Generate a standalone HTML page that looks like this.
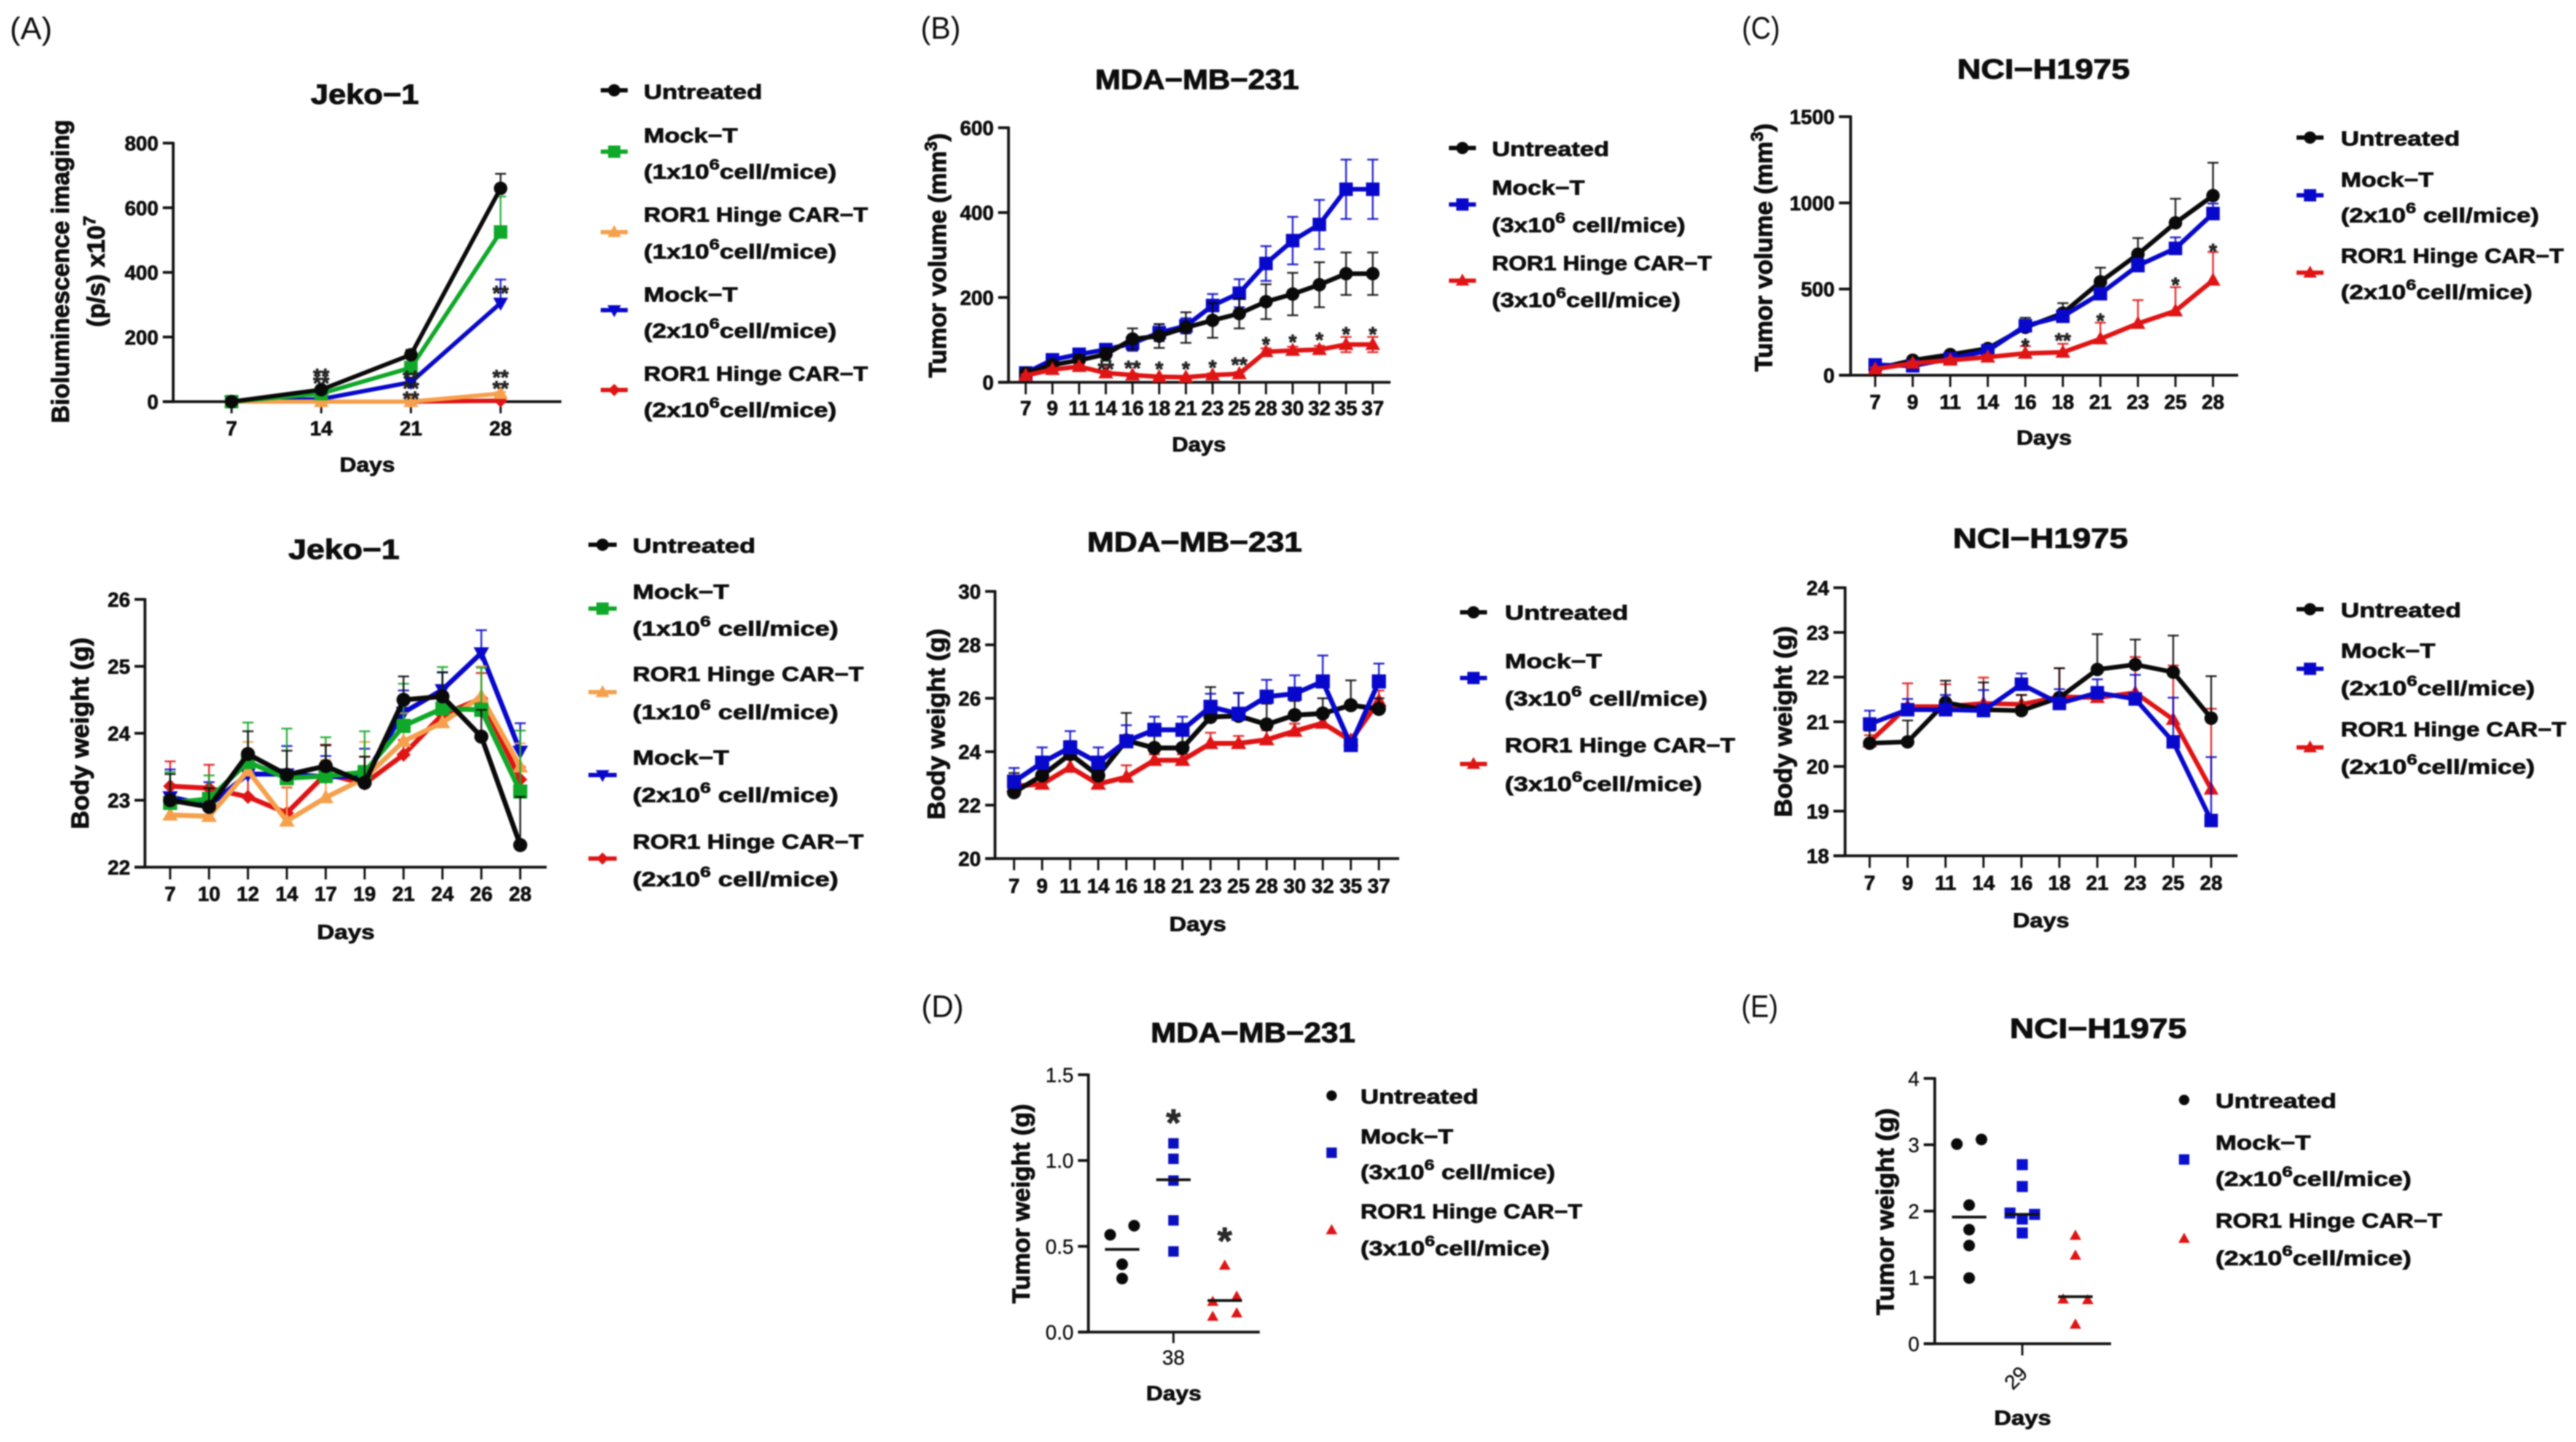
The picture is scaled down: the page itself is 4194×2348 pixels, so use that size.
<!DOCTYPE html>
<html lang="en">
<head>
<meta charset="utf-8">
<title>ROR1 Hinge CAR-T tumor and body weight charts</title>
<style>
html,body{margin:0;padding:0;background:#fff;}
#figure{display:block;width:4194px;height:2348px;font-family:"Liberation Sans",Arial,sans-serif;filter:blur(1.1px);}
#figure text{fill:#0d0d0d;}
.t{font-size:45px;font-weight:700;text-anchor:middle;stroke:#0d0d0d;stroke-width:1.2px;}
.d{font-size:33px;font-weight:700;text-anchor:middle;stroke:#0d0d0d;stroke-width:0.9px;}
.yt{font-size:40px;font-weight:700;text-anchor:middle;stroke:#0d0d0d;stroke-width:1.2px;}
.l{font-size:33px;font-weight:700;stroke:#0d0d0d;stroke-width:0.9px;}
.p{font-size:51px;font-weight:400;}
</style>
</head>
<body>
<svg id="figure" xmlns="http://www.w3.org/2000/svg" width="4194" height="2348" viewBox="0 0 4194 2348">
<rect width="4194" height="2348" fill="#fff"/>

<g>
<text class="p" x="16" y="64" textLength="69" lengthAdjust="spacingAndGlyphs">(A)</text>
<text class="p" x="1499" y="63" textLength="65" lengthAdjust="spacingAndGlyphs">(B)</text>
<text class="p" x="2836" y="63" textLength="62" lengthAdjust="spacingAndGlyphs">(C)</text>
<text class="p" x="1500" y="1656" textLength="69" lengthAdjust="spacingAndGlyphs">(D)</text>
<text class="p" x="2835" y="1656" textLength="60" lengthAdjust="spacingAndGlyphs">(E)</text>
</g>

<g>
<text class="t" x="594" y="169" textLength="176" lengthAdjust="spacingAndGlyphs">Jeko−1</text>
<text class="t" x="560" y="910" textLength="181" lengthAdjust="spacingAndGlyphs">Jeko−1</text>
<text class="t" x="1949" y="145" textLength="332" lengthAdjust="spacingAndGlyphs">MDA−MB−231</text>
<text class="t" x="1945" y="898" textLength="350" lengthAdjust="spacingAndGlyphs">MDA−MB−231</text>
<text class="t" x="3327" y="128" textLength="281" lengthAdjust="spacingAndGlyphs">NCI−H1975</text>
<text class="t" x="3322" y="892" textLength="285" lengthAdjust="spacingAndGlyphs">NCI−H1975</text>
<text class="t" x="2040" y="1697" textLength="333" lengthAdjust="spacingAndGlyphs">MDA−MB−231</text>
<text class="t" x="3416" y="1690" textLength="288" lengthAdjust="spacingAndGlyphs">NCI−H1975</text>
</g>

<g>
<text class="d" x="598" y="768" textLength="90" lengthAdjust="spacingAndGlyphs">Days</text>
<text class="d" x="563" y="1529" textLength="94" lengthAdjust="spacingAndGlyphs">Days</text>
<text class="d" x="1952" y="735" textLength="88" lengthAdjust="spacingAndGlyphs">Days</text>
<text class="d" x="1950" y="1516" textLength="93" lengthAdjust="spacingAndGlyphs">Days</text>
<text class="d" x="3328" y="724" textLength="90" lengthAdjust="spacingAndGlyphs">Days</text>
<text class="d" x="3323" y="1510" textLength="92" lengthAdjust="spacingAndGlyphs">Days</text>
<text class="d" x="1911" y="2280" textLength="90" lengthAdjust="spacingAndGlyphs">Days</text>
<text class="d" x="3293" y="2320" textLength="93" lengthAdjust="spacingAndGlyphs">Days</text>
</g>

<g>
<text class="yt" transform="translate(112,442) rotate(-90)" textLength="494" lengthAdjust="spacingAndGlyphs">Bioluminescence imaging</text>
<text class="yt" transform="translate(170,442) rotate(-90)" textLength="181" lengthAdjust="spacingAndGlyphs">(p/s) x10<tspan dy="-15" font-size="28">7</tspan></text>
<text class="yt" transform="translate(144,1194) rotate(-90)" textLength="312" lengthAdjust="spacingAndGlyphs">Body weight (g)</text>
<text class="yt" transform="translate(1540,416) rotate(-90)" textLength="398" lengthAdjust="spacingAndGlyphs">Tumor volume (mm<tspan dy="-15" font-size="28">3</tspan><tspan dy="15">)</tspan></text>
<text class="yt" transform="translate(1538,1179) rotate(-90)" textLength="311" lengthAdjust="spacingAndGlyphs">Body weight (g)</text>
<text class="yt" transform="translate(2885,403) rotate(-90)" textLength="404" lengthAdjust="spacingAndGlyphs">Tumor volume (mm<tspan dy="-15" font-size="28">3</tspan><tspan dy="15">)</tspan></text>
<text class="yt" transform="translate(2917,1175) rotate(-90)" textLength="311" lengthAdjust="spacingAndGlyphs">Body weight (g)</text>
<text class="yt" transform="translate(1676,1960) rotate(-90)" textLength="325" lengthAdjust="spacingAndGlyphs">Tumor weight (g)</text>
<text class="yt" transform="translate(3083,1973) rotate(-90)" textLength="337" lengthAdjust="spacingAndGlyphs">Tumor weight (g)</text>
</g>

<g>
<text class="l" x="1048" y="161" textLength="193" lengthAdjust="spacingAndGlyphs">Untreated</text>
<text class="l" x="1048" y="232" textLength="153" lengthAdjust="spacingAndGlyphs">Mock−T</text>
<text class="l" x="1048" y="291" textLength="314" lengthAdjust="spacingAndGlyphs">(1x10<tspan dy="-15" font-size="24">6</tspan><tspan dy="15">cell/mice)</tspan></text>
<text class="l" x="1048" y="361" textLength="365" lengthAdjust="spacingAndGlyphs">ROR1 Hinge CAR−T</text>
<text class="l" x="1048" y="421" textLength="314" lengthAdjust="spacingAndGlyphs">(1x10<tspan dy="-15" font-size="24">6</tspan><tspan dy="15">cell/mice)</tspan></text>
<text class="l" x="1048" y="491" textLength="153" lengthAdjust="spacingAndGlyphs">Mock−T</text>
<text class="l" x="1048" y="550" textLength="314" lengthAdjust="spacingAndGlyphs">(2x10<tspan dy="-15" font-size="24">6</tspan><tspan dy="15">cell/mice)</tspan></text>
<text class="l" x="1048" y="620" textLength="365" lengthAdjust="spacingAndGlyphs">ROR1 Hinge CAR−T</text>
<text class="l" x="1048" y="679" textLength="314" lengthAdjust="spacingAndGlyphs">(2x10<tspan dy="-15" font-size="24">6</tspan><tspan dy="15">cell/mice)</tspan></text>
</g>

<g>
<text class="l" x="1030" y="900" textLength="200" lengthAdjust="spacingAndGlyphs">Untreated</text>
<text class="l" x="1030" y="975" textLength="157" lengthAdjust="spacingAndGlyphs">Mock−T</text>
<text class="l" x="1030" y="1035" textLength="335" lengthAdjust="spacingAndGlyphs">(1x10<tspan dy="-15" font-size="24">6</tspan><tspan dy="15"> cell/mice)</tspan></text>
<text class="l" x="1030" y="1109" textLength="376" lengthAdjust="spacingAndGlyphs">ROR1 Hinge CAR−T</text>
<text class="l" x="1030" y="1171" textLength="335" lengthAdjust="spacingAndGlyphs">(1x10<tspan dy="-15" font-size="24">6</tspan><tspan dy="15"> cell/mice)</tspan></text>
<text class="l" x="1030" y="1245" textLength="157" lengthAdjust="spacingAndGlyphs">Mock−T</text>
<text class="l" x="1030" y="1306" textLength="335" lengthAdjust="spacingAndGlyphs">(2x10<tspan dy="-15" font-size="24">6</tspan><tspan dy="15"> cell/mice)</tspan></text>
<text class="l" x="1030" y="1382" textLength="376" lengthAdjust="spacingAndGlyphs">ROR1 Hinge CAR−T</text>
<text class="l" x="1030" y="1443" textLength="335" lengthAdjust="spacingAndGlyphs">(2x10<tspan dy="-15" font-size="24">6</tspan><tspan dy="15"> cell/mice)</tspan></text>
</g>

<g>
<text class="l" x="2429" y="254" textLength="191" lengthAdjust="spacingAndGlyphs">Untreated</text>
<text class="l" x="2429" y="317" textLength="151" lengthAdjust="spacingAndGlyphs">Mock−T</text>
<text class="l" x="2429" y="378" textLength="315" lengthAdjust="spacingAndGlyphs">(3x10<tspan dy="-15" font-size="24">6</tspan><tspan dy="15"> cell/mice)</tspan></text>
<text class="l" x="2429" y="440" textLength="358" lengthAdjust="spacingAndGlyphs">ROR1 Hinge CAR−T</text>
<text class="l" x="2429" y="500" textLength="307" lengthAdjust="spacingAndGlyphs">(3x10<tspan dy="-15" font-size="24">6</tspan><tspan dy="15">cell/mice)</tspan></text>
</g>

<g>
<text class="l" x="2450" y="1009" textLength="201" lengthAdjust="spacingAndGlyphs">Untreated</text>
<text class="l" x="2450" y="1088" textLength="158" lengthAdjust="spacingAndGlyphs">Mock−T</text>
<text class="l" x="2450" y="1149" textLength="330" lengthAdjust="spacingAndGlyphs">(3x10<tspan dy="-15" font-size="24">6</tspan><tspan dy="15"> cell/mice)</tspan></text>
<text class="l" x="2450" y="1225" textLength="375" lengthAdjust="spacingAndGlyphs">ROR1 Hinge CAR−T</text>
<text class="l" x="2450" y="1288" textLength="321" lengthAdjust="spacingAndGlyphs">(3x10<tspan dy="-15" font-size="24">6</tspan><tspan dy="15">cell/mice)</tspan></text>
</g>

<g>
<text class="l" x="3811" y="237" textLength="194" lengthAdjust="spacingAndGlyphs">Untreated</text>
<text class="l" x="3811" y="304" textLength="151" lengthAdjust="spacingAndGlyphs">Mock−T</text>
<text class="l" x="3811" y="362" textLength="323" lengthAdjust="spacingAndGlyphs">(2x10<tspan dy="-15" font-size="24">6</tspan><tspan dy="15"> cell/mice)</tspan></text>
<text class="l" x="3811" y="428" textLength="363" lengthAdjust="spacingAndGlyphs">ROR1 Hinge CAR−T</text>
<text class="l" x="3811" y="487" textLength="312" lengthAdjust="spacingAndGlyphs">(2x10<tspan dy="-15" font-size="24">6</tspan><tspan dy="15">cell/mice)</tspan></text>
</g>

<g>
<text class="l" x="3811" y="1005" textLength="196" lengthAdjust="spacingAndGlyphs">Untreated</text>
<text class="l" x="3811" y="1071" textLength="154" lengthAdjust="spacingAndGlyphs">Mock−T</text>
<text class="l" x="3811" y="1132" textLength="316" lengthAdjust="spacingAndGlyphs">(2x10<tspan dy="-15" font-size="24">6</tspan><tspan dy="15">cell/mice)</tspan></text>
<text class="l" x="3811" y="1199" textLength="367" lengthAdjust="spacingAndGlyphs">ROR1 Hinge CAR−T</text>
<text class="l" x="3811" y="1260" textLength="316" lengthAdjust="spacingAndGlyphs">(2x10<tspan dy="-15" font-size="24">6</tspan><tspan dy="15">cell/mice)</tspan></text>
</g>

<g>
<text class="l" x="2215" y="1797" textLength="192" lengthAdjust="spacingAndGlyphs">Untreated</text>
<text class="l" x="2215" y="1862" textLength="151" lengthAdjust="spacingAndGlyphs">Mock−T</text>
<text class="l" x="2215" y="1920" textLength="317" lengthAdjust="spacingAndGlyphs">(3x10<tspan dy="-15" font-size="24">6</tspan><tspan dy="15"> cell/mice)</tspan></text>
<text class="l" x="2215" y="1984" textLength="361" lengthAdjust="spacingAndGlyphs">ROR1 Hinge CAR−T</text>
<text class="l" x="2215" y="2044" textLength="308" lengthAdjust="spacingAndGlyphs">(3x10<tspan dy="-15" font-size="24">6</tspan><tspan dy="15">cell/mice)</tspan></text>
</g>

<g>
<text class="l" x="3607" y="1804" textLength="197" lengthAdjust="spacingAndGlyphs">Untreated</text>
<text class="l" x="3607" y="1872" textLength="155" lengthAdjust="spacingAndGlyphs">Mock−T</text>
<text class="l" x="3607" y="1931" textLength="319" lengthAdjust="spacingAndGlyphs">(2x10<tspan dy="-15" font-size="24">6</tspan><tspan dy="15">cell/mice)</tspan></text>
<text class="l" x="3607" y="1999" textLength="369" lengthAdjust="spacingAndGlyphs">ROR1 Hinge CAR−T</text>
<text class="l" x="3607" y="2060" textLength="319" lengthAdjust="spacingAndGlyphs">(2x10<tspan dy="-15" font-size="24">6</tspan><tspan dy="15">cell/mice)</tspan></text>
</g>
</svg>

<script>
/* ---------- Panel A, Jeko-1 bioluminescence ---------- */
const jekoImagingDays = ['7','14','21','28'];
const jekoImagingTicks = [0,200,400,600,800];
const jekoImagingUntreated = [0,37,145,660];
const jekoImagingUntreatedUpper = [0,45,160,705];
const jekoImagingMock1 = [0,25,105,525];
const jekoImagingMock1Upper = [0,30,120,635];
const jekoImagingCar1 = [0,0,0,25];
const jekoImagingCar1Upper = [0,0,0,30];
const jekoImagingMock2 = [0,8,60,305];
const jekoImagingMock2Upper = [0,10,70,378];
const jekoImagingCar2 = [0,0,0,3];
const jekoImagingCar2Upper = [0,0,0,5];
const jekoImagingStarDays = [1,1,2,2,2,3,3,3];
const jekoImagingStarHeights = [93,71,87,55,23,350,89,55];
const jekoImagingStarLabels = ['**','**','**','**','**','**','**','**'];

/* ---------- Panel A, Jeko-1 body weight ---------- */
const jekoWeightDays = ['7','10','12','14','17','19','21','24','26','28'];
const jekoWeightTicks = [22,23,24,25,26];
const jekoWeightUntreated = [23.0,22.9,23.69,23.38,23.51,23.26,24.5,24.55,23.95,22.33];
const jekoWeightUntreatedUpper = [23.39,23.18,24.03,23.74,23.82,23.65,24.85,24.91,24.35,23.05];
const jekoWeightMock1 = [22.96,23.02,23.57,23.33,23.36,23.42,24.11,24.37,24.35,23.13];
const jekoWeightMock1Upper = [23.42,23.37,24.16,24.07,23.94,24.03,24.74,24.99,24.98,24.04];
const jekoWeightCar1 = [22.78,22.76,23.44,22.69,23.04,23.33,23.88,24.16,24.55,23.5];
const jekoWeightCar1Upper = [22.9,22.9,23.87,23.2,23.6,23.87,24.3,24.6,25.0,23.85];
const jekoWeightMock2 = [23.05,22.92,23.39,23.39,23.35,23.36,24.31,24.65,25.2,23.73];
const jekoWeightMock2Upper = [23.46,23.27,23.45,23.81,23.66,23.77,24.64,24.91,25.54,24.15];
const jekoWeightCar2 = [23.21,23.18,23.05,22.81,23.39,23.25,23.68,24.28,24.52,23.31];
const jekoWeightCar2Upper = [23.58,23.53,23.44,23.19,23.83,23.65,23.9,24.6,24.9,23.5];

/* ---------- Panel B, MDA-MB-231 tumor volume ---------- */
const mdaVolumeDays = ['7','9','11','14','16','18','21','23','25','28','30','32','35','37'];
const mdaVolumeTicks = [0,200,400,600];
const mdaVolumeUntreated = [21,41,52,66,102,109,129,146,162,190,208,230,256,256];
const mdaVolumeUntreatedError = [5,10,12,15,25,28,36,41,35,41,50,53,50,50];
const mdaVolumeMock = [22,53,66,77,92,117,133,181,210,280,334,372,455,455];
const mdaVolumeMockError = [5,10,10,12,18,20,18,27,33,41,56,58,70,70];
const mdaVolumeCar = [16,30,37,22,17,13,12,17,20,72,75,77,89,89];
const mdaVolumeCarError = [3,4,5,4,4,3,3,4,4,8,9,9,18,18];
const mdaVolumeStarDays = [3,4,5,6,7,8,9,10,11,12,13];
const mdaVolumeStarHeights = [42,44,42,42,46,52,100,106,111,124,124];
const mdaVolumeStarLabels = ['**','**','*','*','*','**','*','*','*','*','*'];

/* ---------- Panel B, MDA-MB-231 body weight ---------- */
const mdaWeightDays = ['7','9','11','14','16','18','21','23','25','28','30','32','35','37'];
const mdaWeightTicks = [20,22,24,26,28,30];
const mdaWeightUntreated = [22.48,23.11,23.91,23.11,24.42,24.14,24.14,25.3,25.34,25.02,25.37,25.43,25.74,25.6];
const mdaWeightUntreatedUpper = [23.2,23.7,24.4,23.6,25.45,24.6,24.6,26.42,26.2,25.8,25.9,26.0,26.67,26.0];
const mdaWeightMock = [22.88,23.59,24.16,23.59,24.39,24.82,24.82,25.68,25.42,26.06,26.17,26.63,24.25,26.63];
const mdaWeightMockUpper = [23.39,24.16,24.77,24.16,24.99,25.31,25.31,26.17,26.19,26.69,26.86,27.6,24.25,27.3];
const mdaWeightCar = [22.71,22.79,23.42,22.79,23.05,23.68,23.68,24.31,24.31,24.45,24.77,25.07,24.42,25.9];
const mdaWeightCarUpper = [23.0,23.1,23.7,23.0,23.49,23.9,23.9,24.71,24.59,24.8,25.05,25.3,24.6,26.29];

/* ---------- Panel C, NCI-H1975 tumor volume ---------- */
const nciVolumeDays = ['7','9','11','14','16','18','21','23','25','28'];
const nciVolumeTicks = [0,500,1000,1500];
const nciVolumeUntreated = [36,87,120,155,278,360,542,702,884,1042];
const nciVolumeUntreatedUpper = [50,105,135,175,333,418,624,796,1024,1233];
const nciVolumeMock = [60,55,96,142,287,342,473,636,736,938];
const nciVolumeMockUpper = [70,70,110,160,305,360,500,678,800,996];
const nciVolumeCar = [36,69,87,105,127,133,211,300,373,551];
const nciVolumeCarUpper = [45,80,100,120,169,182,305,436,511,715];
const nciVolumeStarDays = [4,5,6,8,9];
const nciVolumeStarHeights = [196,229,342,551,747];
const nciVolumeStarLabels = ['*','**','*','*','*'];

/* ---------- Panel C, NCI-H1975 body weight ---------- */
const nciWeightDays = ['7','9','11','14','16','18','21','23','25','28'];
const nciWeightTicks = [18,19,20,21,22,23,24];
const nciWeightUntreated = [20.52,20.55,21.43,21.27,21.25,21.54,22.17,22.28,22.11,21.08];
const nciWeightUntreatedUpper = [20.8,21.03,21.92,21.88,21.6,22.2,22.96,22.84,22.93,22.02];
const nciWeightMock = [20.95,21.27,21.27,21.25,21.84,21.41,21.65,21.51,20.55,18.79];
const nciWeightMockUpper = [21.25,21.51,21.6,21.71,22.08,21.73,21.95,22.05,21.54,20.21];
const nciWeightCar = [20.55,21.34,21.34,21.41,21.39,21.56,21.54,21.65,21.05,19.49];
const nciWeightCarUpper = [20.7,21.86,21.84,21.99,21.6,22.2,21.7,22.45,22.26,21.29];

/* ---------- Panel D, MDA-MB-231 tumor weight ---------- */
const mdaTumorDay = ['38'];
const mdaTumorTicks = ['0.0','0.5','1.0','1.5'];
const mdaTumorUntreated = [0.567,0.62,0.395,0.312];
const mdaTumorUntreatedJitter = [-1,1,0,0];
const mdaTumorUntreatedMedian = [0.482];
const mdaTumorMock = [1.10,1.01,0.883,0.651,0.47];
const mdaTumorMockJitter = [0,0,0,0,0];
const mdaTumorMockMedian = [0.888];
const mdaTumorCar = [0.388,0.177,0.207,0.09,0.11];
const mdaTumorCarJitter = [0,-1,1,-1,1];
const mdaTumorCarMedian = [0.184];
const mdaTumorStarGroups = [1,2];
const mdaTumorStarHeights = [1.268,0.579];
const mdaTumorStarLabels = ['*','*'];

/* ---------- Panel E, NCI-H1975 tumor weight ---------- */
const nciTumorDay = ['29'];
const nciTumorTicks = ['0','1','2','3','4'];
const nciTumorUntreated = [3.01,3.08,2.09,1.72,1.48,0.99];
const nciTumorUntreatedJitter = [-1,1,0,0,0,0];
const nciTumorUntreatedMedian = [1.91];
const nciTumorMock = [2.70,2.37,1.97,1.95,1.88,1.67];
const nciTumorMockJitter = [0,0,-1,1,0,0];
const nciTumorMockMedian = [1.95];
const nciTumorCar = [1.63,1.33,0.67,0.66,0.29];
const nciTumorCarJitter = [0,0,-1,1,0];
const nciTumorCarMedian = [0.71];

/* ---------- Styles ---------- */
const BLACK = '#0a0a0a', GREEN = '#10a828', ORANGE = '#f5a04c', BLUE = '#0808cc', RED = '#e01414';
const NS = 'http://www.w3.org/2000/svg';
const figure = document.getElementById('figure');

function make(tag, attrs, parent) {
  const el = document.createElementNS(NS, tag);
  for (const k in attrs) el.setAttribute(k, attrs[k]);
  parent.appendChild(el);
  return el;
}

function addMarker(parent, shape, cx, cy, s, color) {
  let el;
  if (shape === 'circle') {
    el = make('circle', {cx: cx, cy: cy, r: s, fill: color}, parent);
  } else if (shape === 'square') {
    el = make('rect', {x: cx - s, y: cy - s, width: 2 * s, height: 2 * s, fill: color}, parent);
  } else if (shape === 'up') {
    el = make('polygon', {points: [cx, cy - s * 1.15, cx + s * 1.1, cy + s * 0.8, cx - s * 1.1, cy + s * 0.8].join(' '), fill: color}, parent);
  } else if (shape === 'down') {
    el = make('polygon', {points: [cx, cy + s * 1.15, cx + s * 1.1, cy - s * 0.8, cx - s * 1.1, cy - s * 0.8].join(' '), fill: color}, parent);
  } else {
    el = make('polygon', {points: [cx, cy - s, cx + s, cy, cx, cy + s, cx - s, cy].join(' '), fill: color}, parent);
  }
  return el;
}

function addLabel(parent, x, y, str, anchor, size, weight) {
  const el = make('text', {x: x, y: y, 'text-anchor': anchor, 'font-size': size, 'font-weight': weight, stroke: '#0d0d0d', 'stroke-width': weight === 700 ? 0.8 : 0.4}, parent);
  el.textContent = str;
  return el;
}

/* Shared axis drawing; returns the y scale */
function drawAxes(root, frame, tickValues, tickLabels, xPositions, xLabels) {
  const yOf = v => frame.bottom - (v - frame.min) / (frame.max - frame.min) * (frame.bottom - frame.top);
  const axes = make('g', {stroke: '#111', 'stroke-width': 4.5, fill: 'none'}, root);
  
  
  const yAxis = make('line', {x1: frame.axisX, x2: frame.axisX, y1: frame.top - 2, y2: frame.bottom}, axes);
  
  
  const xAxis = make('line', {x1: frame.tickLeft, x2: frame.axisEnd, y1: frame.bottom, y2: frame.bottom}, axes);
  
  
  tickValues.forEach((v, i) => {
    const y = yOf(v);
    const tick = make('line', {x1: frame.tickLeft, x2: frame.axisX, y1: y, y2: y}, axes);
    
    
    const lab = addLabel(root, frame.tickLeft - 7, y + 12, tickLabels[i], 'end', frame.labelSize, frame.labelWeight);
    
    
  });
  xPositions.forEach((x, i) => {
    const tick = make('line', {x1: x, x2: x, y1: frame.bottom, y2: frame.tickBottom, 'stroke-width': 3.5}, axes);
    
    
    const lx = x + (frame.xLabelShift || 0);
    const lab = addLabel(root, lx, frame.xLabelY, xLabels[i], 'middle', frame.labelSize, frame.labelWeight);
    
    
    if (frame.xLabelRotate) {
      lab.setAttribute('transform', 'rotate(' + frame.xLabelRotate + ' ' + lx + ' ' + (frame.xLabelY - 12) + ')');
    }
  });
  return yOf;
}

function drawStars(root, xAt, yOf, positions, heights, labels, size) {
  labels.forEach((str, i) => {
    const star = addLabel(root, xAt(positions[i]), yOf(heights[i]) + size * 0.56, str, 'middle', size, 700);
    
    
    star.style.fill = '#2a2a2a';
  });
}

function drawLineChart(name, frame, labels, tickValues, seriesList, stars) {
  const root = make('g', {}, figure);
  
  
  const step = (frame.lastX - frame.firstX) / (labels.length - 1);
  const xAt = i => frame.firstX + i * step;
  const yOf = drawAxes(root, frame, tickValues, tickValues.map(String), labels.map((_, i) => xAt(i)), labels);
  seriesList.forEach(s => {
    const g = make('g', {}, root);
    
    
    s.values.forEach((v, i) => {
      const x = xAt(i), yv = yOf(v), up = yOf(s.upper[i]);
      const low = s.both ? yOf(2 * v - s.upper[i]) : yv;
      const bar = make('line', {x1: x, x2: x, y1: up, y2: low, stroke: s.color, 'stroke-width': 3, 'stroke-opacity': 0.85}, g);
      
      
      const cap = make('line', {x1: x - 9, x2: x + 9, y1: up, y2: up, stroke: s.color, 'stroke-width': 3, 'stroke-opacity': 0.85}, g);
      
      
      if (s.both) {
        const capLow = make('line', {x1: x - 9, x2: x + 9, y1: low, y2: low, stroke: s.color, 'stroke-width': 3, 'stroke-opacity': 0.85}, g);
        
        
      }
    });
    const pts = s.values.map((v, i) => xAt(i) + ',' + yOf(v)).join(' ');
    const line = make('polyline', {points: pts, fill: 'none', stroke: s.color, 'stroke-width': frame.lineWidth, 'stroke-linejoin': 'miter'}, g);
    
    
    s.values.forEach((v, i) => {
      const m = addMarker(g, s.shape, xAt(i), yOf(v), frame.marker, s.color);
      
      
    });
  });
  if (stars) drawStars(root, xAt, yOf, stars.positions, stars.heights, stars.labels, stars.size);
}

function drawDotChart(name, frame, dayLabel, tickLabels, groups, stars) {
  const root = make('g', {}, figure);
  
  
  const groupX = i => frame.firstGroupX + i * frame.groupStep;
  const yOf = drawAxes(root, frame, tickLabels.map(Number), tickLabels, [groupX(1)], dayLabel);
  groups.forEach((gr, gi) => {
    const g = make('g', {}, root);
    
    
    const cx = groupX(gi);
    gr.values.forEach((v, i) => {
      const m = addMarker(g, gr.shape, cx + gr.jitter[i] * frame.jitterStep, yOf(v), gr.size, gr.color);
      
      
    });
    const med = make('line', {x1: cx - 28, x2: cx + 28, y1: yOf(gr.median[0]), y2: yOf(gr.median[0]), stroke: '#111', 'stroke-width': 4.5}, g);
    
    
  });
  if (stars) drawStars(root, groupX, yOf, stars.positions, stars.heights, stars.labels, stars.size);
}

function drawLegendSymbols(name, x, half, lineWidth, size, rows) {
  const root = make('g', {}, figure);
  
  
  rows.forEach(r => {
    if (half > 0) {
      const line = make('line', {x1: x - half, x2: x + half, y1: r.y, y2: r.y, stroke: r.color, 'stroke-width': lineWidth}, root);
      
      
    }
    const m = addMarker(root, r.shape, x, r.y, size, r.color);
    
    
  });
}

/* ---------- Draw ---------- */
drawLineChart('chart-jeko-imaging',
  {axisX: 282, top: 233, bottom: 654, tickLeft: 265, axisEnd: 914, tickBottom: 673, firstX: 377, lastX: 815, xLabelY: 709, min: 0, max: 800, lineWidth: 7, marker: 11, labelSize: 33, labelWeight: 700},
  jekoImagingDays, jekoImagingTicks,
  [
    {name: 'car-t-2x', color: RED, shape: 'diamond', values: jekoImagingCar2, upper: jekoImagingCar2Upper},
    {name: 'mock-t-2x', color: BLUE, shape: 'down', values: jekoImagingMock2, upper: jekoImagingMock2Upper},
    {name: 'car-t-1x', color: ORANGE, shape: 'up', values: jekoImagingCar1, upper: jekoImagingCar1Upper},
    {name: 'mock-t-1x', color: GREEN, shape: 'square', values: jekoImagingMock1, upper: jekoImagingMock1Upper},
    {name: 'untreated', color: BLACK, shape: 'circle', values: jekoImagingUntreated, upper: jekoImagingUntreatedUpper}
  ],
  {positions: jekoImagingStarDays, heights: jekoImagingStarHeights, labels: jekoImagingStarLabels, size: 34});

drawLineChart('chart-jeko-body-weight',
  {axisX: 236, top: 976, bottom: 1412, tickLeft: 219, axisEnd: 890, tickBottom: 1432, firstX: 277, lastX: 847, xLabelY: 1467, min: 22, max: 26, lineWidth: 8, marker: 11.5, labelSize: 33, labelWeight: 700},
  jekoWeightDays, jekoWeightTicks,
  [
    {name: 'car-t-2x', color: RED, shape: 'diamond', values: jekoWeightCar2, upper: jekoWeightCar2Upper},
    {name: 'mock-t-2x', color: BLUE, shape: 'down', values: jekoWeightMock2, upper: jekoWeightMock2Upper},
    {name: 'car-t-1x', color: ORANGE, shape: 'up', values: jekoWeightCar1, upper: jekoWeightCar1Upper},
    {name: 'mock-t-1x', color: GREEN, shape: 'square', values: jekoWeightMock1, upper: jekoWeightMock1Upper},
    {name: 'untreated', color: BLACK, shape: 'circle', values: jekoWeightUntreated, upper: jekoWeightUntreatedUpper}
  ]);

drawLineChart('chart-mda-volume',
  {axisX: 1642, top: 208, bottom: 622.5, tickLeft: 1625, axisEnd: 2264, tickBottom: 642, firstX: 1670, lastX: 2235, xLabelY: 676, min: 0, max: 600, lineWidth: 7.5, marker: 11, labelSize: 33, labelWeight: 700},
  mdaVolumeDays, mdaVolumeTicks,
  [
    {name: 'mock-t', color: BLUE, shape: 'square', both: true, values: mdaVolumeMock, upper: mdaVolumeMock.map((v, i) => v + mdaVolumeMockError[i])},
    {name: 'untreated', color: BLACK, shape: 'circle', both: true, values: mdaVolumeUntreated, upper: mdaVolumeUntreated.map((v, i) => v + mdaVolumeUntreatedError[i])},
    {name: 'car-t', color: RED, shape: 'up', both: true, values: mdaVolumeCar, upper: mdaVolumeCar.map((v, i) => v + mdaVolumeCarError[i])}
  ],
  {positions: mdaVolumeStarDays, heights: mdaVolumeStarHeights, labels: mdaVolumeStarLabels, size: 34});

drawLineChart('chart-mda-body-weight',
  {axisX: 1620, top: 963, bottom: 1398, tickLeft: 1604, axisEnd: 2278, tickBottom: 1417, firstX: 1651, lastX: 2245, xLabelY: 1454, min: 20, max: 30, lineWidth: 8, marker: 11.5, labelSize: 33, labelWeight: 700},
  mdaWeightDays, mdaWeightTicks,
  [
    {name: 'car-t', color: RED, shape: 'up', values: mdaWeightCar, upper: mdaWeightCarUpper},
    {name: 'untreated', color: BLACK, shape: 'circle', values: mdaWeightUntreated, upper: mdaWeightUntreatedUpper},
    {name: 'mock-t', color: BLUE, shape: 'square', values: mdaWeightMock, upper: mdaWeightMockUpper}
  ]);

drawLineChart('chart-nci-volume',
  {axisX: 3013, top: 190, bottom: 611, tickLeft: 2994, axisEnd: 3644, tickBottom: 630, firstX: 3053, lastX: 3603, xLabelY: 666, min: 0, max: 1500, lineWidth: 7.5, marker: 11, labelSize: 33, labelWeight: 700},
  nciVolumeDays, nciVolumeTicks,
  [
    {name: 'untreated', color: BLACK, shape: 'circle', values: nciVolumeUntreated, upper: nciVolumeUntreatedUpper},
    {name: 'mock-t', color: BLUE, shape: 'square', values: nciVolumeMock, upper: nciVolumeMockUpper},
    {name: 'car-t', color: RED, shape: 'up', values: nciVolumeCar, upper: nciVolumeCarUpper}
  ],
  {positions: nciVolumeStarDays, heights: nciVolumeStarHeights, labels: nciVolumeStarLabels, size: 34});

drawLineChart('chart-nci-body-weight',
  {axisX: 3004, top: 957, bottom: 1393.5, tickLeft: 2985, axisEnd: 3643, tickBottom: 1413, firstX: 3044, lastX: 3600, xLabelY: 1449, min: 18, max: 24, lineWidth: 7.5, marker: 11, labelSize: 33, labelWeight: 700},
  nciWeightDays, nciWeightTicks,
  [
    {name: 'car-t', color: RED, shape: 'up', values: nciWeightCar, upper: nciWeightCarUpper},
    {name: 'untreated', color: BLACK, shape: 'circle', values: nciWeightUntreated, upper: nciWeightUntreatedUpper},
    {name: 'mock-t', color: BLUE, shape: 'square', values: nciWeightMock, upper: nciWeightMockUpper}
  ]);

drawDotChart('chart-mda-tumor-weight',
  {axisX: 1772, top: 1750, bottom: 2169, tickLeft: 1755, axisEnd: 2051, tickBottom: 2187, firstGroupX: 1827, groupStep: 83.5, jitterStep: 19.5, xLabelY: 2222, min: 0, max: 1.5, labelSize: 33, labelWeight: 400},
  mdaTumorDay, mdaTumorTicks,
  [
    {name: 'untreated', color: BLACK, shape: 'circle', size: 9.5, values: mdaTumorUntreated, jitter: mdaTumorUntreatedJitter, median: mdaTumorUntreatedMedian},
    {name: 'mock-t', color: '#0a10c0', shape: 'square', size: 8.5, values: mdaTumorMock, jitter: mdaTumorMockJitter, median: mdaTumorMockMedian},
    {name: 'car-t', color: RED, shape: 'up', size: 8.5, values: mdaTumorCar, jitter: mdaTumorCarJitter, median: mdaTumorCarMedian}
  ],
  {positions: mdaTumorStarGroups, heights: mdaTumorStarHeights, labels: mdaTumorStarLabels, size: 62});

drawDotChart('chart-nci-tumor-weight',
  {axisX: 3150, top: 1756, bottom: 2188, tickLeft: 3132, axisEnd: 3437, tickBottom: 2207, firstGroupX: 3206, groupStep: 86.5, jitterStep: 20, xLabelY: 2255, xLabelShift: -11, xLabelRotate: -45, min: 0, max: 4, labelSize: 33, labelWeight: 400},
  nciTumorDay, nciTumorTicks,
  [
    {name: 'untreated', color: BLACK, shape: 'circle', size: 9.5, values: nciTumorUntreated, jitter: nciTumorUntreatedJitter, median: nciTumorUntreatedMedian},
    {name: 'mock-t', color: '#0a10d0', shape: 'square', size: 9, values: nciTumorMock, jitter: nciTumorMockJitter, median: nciTumorMockMedian},
    {name: 'car-t', color: RED, shape: 'up', size: 8.5, values: nciTumorCar, jitter: nciTumorCarJitter, median: nciTumorCarMedian}
  ]);

drawLegendSymbols('legend-symbols-jeko-imaging', 1000, 22, 7, 10, [
  {y: 147, color: BLACK, shape: 'circle'},
  {y: 247, color: GREEN, shape: 'square'},
  {y: 378, color: ORANGE, shape: 'up'},
  {y: 505, color: BLUE, shape: 'down'},
  {y: 635, color: RED, shape: 'diamond'}
]);
drawLegendSymbols('legend-symbols-jeko-body-weight', 981, 23, 7, 10, [
  {y: 887, color: BLACK, shape: 'circle'},
  {y: 991, color: GREEN, shape: 'square'},
  {y: 1127, color: ORANGE, shape: 'up'},
  {y: 1262, color: BLUE, shape: 'down'},
  {y: 1398, color: RED, shape: 'diamond'}
]);
drawLegendSymbols('legend-symbols-mda-volume', 2381, 22, 7, 10, [
  {y: 241, color: BLACK, shape: 'circle'},
  {y: 333, color: BLUE, shape: 'square'},
  {y: 457, color: RED, shape: 'up'}
]);
drawLegendSymbols('legend-symbols-mda-body-weight', 2399, 22, 7, 10, [
  {y: 997, color: BLACK, shape: 'circle'},
  {y: 1104, color: BLUE, shape: 'square'},
  {y: 1244, color: RED, shape: 'up'}
]);
drawLegendSymbols('legend-symbols-nci-volume', 3761, 22, 7, 10, [
  {y: 224, color: BLACK, shape: 'circle'},
  {y: 318, color: BLUE, shape: 'square'},
  {y: 444, color: RED, shape: 'up'}
]);
drawLegendSymbols('legend-symbols-nci-body-weight', 3761, 22, 7, 10, [
  {y: 992, color: BLACK, shape: 'circle'},
  {y: 1089, color: BLUE, shape: 'square'},
  {y: 1217, color: RED, shape: 'up'}
]);
drawLegendSymbols('legend-symbols-mda-tumor-weight', 2168, 0, 0, 8.5, [
  {y: 1784, color: BLACK, shape: 'circle'},
  {y: 1877, color: '#0a10c0', shape: 'square'},
  {y: 2003, color: RED, shape: 'up'}
]);
drawLegendSymbols('legend-symbols-nci-tumor-weight', 3556, 0, 0, 8.5, [
  {y: 1791, color: BLACK, shape: 'circle'},
  {y: 1888, color: '#0a10d0', shape: 'square'},
  {y: 2017, color: RED, shape: 'up'}
]);
</script>
</body>
</html>
